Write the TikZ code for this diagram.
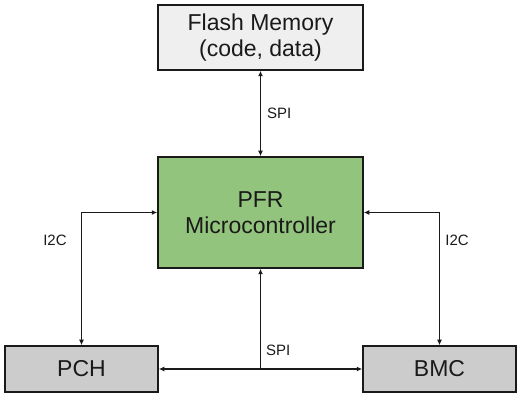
\documentclass[tikz,border=0pt]{standalone}
\usepackage{fontspec}
\setmainfont{Liberation Sans}
\usepackage{xcolor}
\usepackage{tikz}
\usetikzlibrary{arrows.meta}

\definecolor{flashgray}{HTML}{EFEFEF}
\definecolor{mcugreen}{HTML}{93C47D}
\definecolor{hostgray}{HTML}{CCCCCC}
\definecolor{inkgray}{HTML}{1A1A1A}

\tikzset{
  block/.style={draw=inkgray, line width=1.5pt, align=center, text=inkgray,
    inner sep=0pt, font=\fontsize{23}{26}\selectfont},
  bus/.style={draw=inkgray, line width=1.3pt, >={Latex[length=5.5pt,width=5pt]}},
  buslabel/.style={text=inkgray, font=\fontsize{15}{17}\selectfont, inner sep=0pt}
}

\begin{document}
\begin{tikzpicture}[x=1pt, y=-1pt]
    \useasboundingbox (0,0) rectangle (523,403);
    % blocks
    \node[block, fill=flashgray, minimum width=205pt, minimum height=65pt] (flash) at (260.5,37.5) {Flash Memory\\(code, data)};
    \node[block, fill=mcugreen, minimum width=205pt, minimum height=111pt] (mcu) at (260.5,212.5) {PFR\\Microcontroller};
    \node[block, fill=hostgray, minimum width=153pt, minimum height=46pt] (pch) at (81.5,369) {PCH};
    \node[block, fill=hostgray, minimum width=153pt, minimum height=46pt] (bmc) at (439.5,369) {BMC};
    \coordinate (spi) at (mcu.south |- pch.east);

    % buses
    \draw[bus, <->] (flash.south) -- (mcu.north);
    \draw[bus, <->] (mcu.west) -| (pch.north);
    \draw[bus, <->] (mcu.east) -| (bmc.north);
    \draw[bus, ->] (spi) -- (mcu.south);
    \draw[bus, ->] (spi) -- (pch.east);
    \draw[bus, ->] (spi) -- (bmc.west);

    % labels
    \node[buslabel, anchor=west] (spitop) at (267,113) {SPI};
    \node[buslabel] (i2cleft) at (55,240) {I2C};
    \node[buslabel] (i2cright) at (457,240) {I2C};
    \node[buslabel, anchor=west] (spibot) at (266,350) {SPI};
\end{tikzpicture}
\end{document}
